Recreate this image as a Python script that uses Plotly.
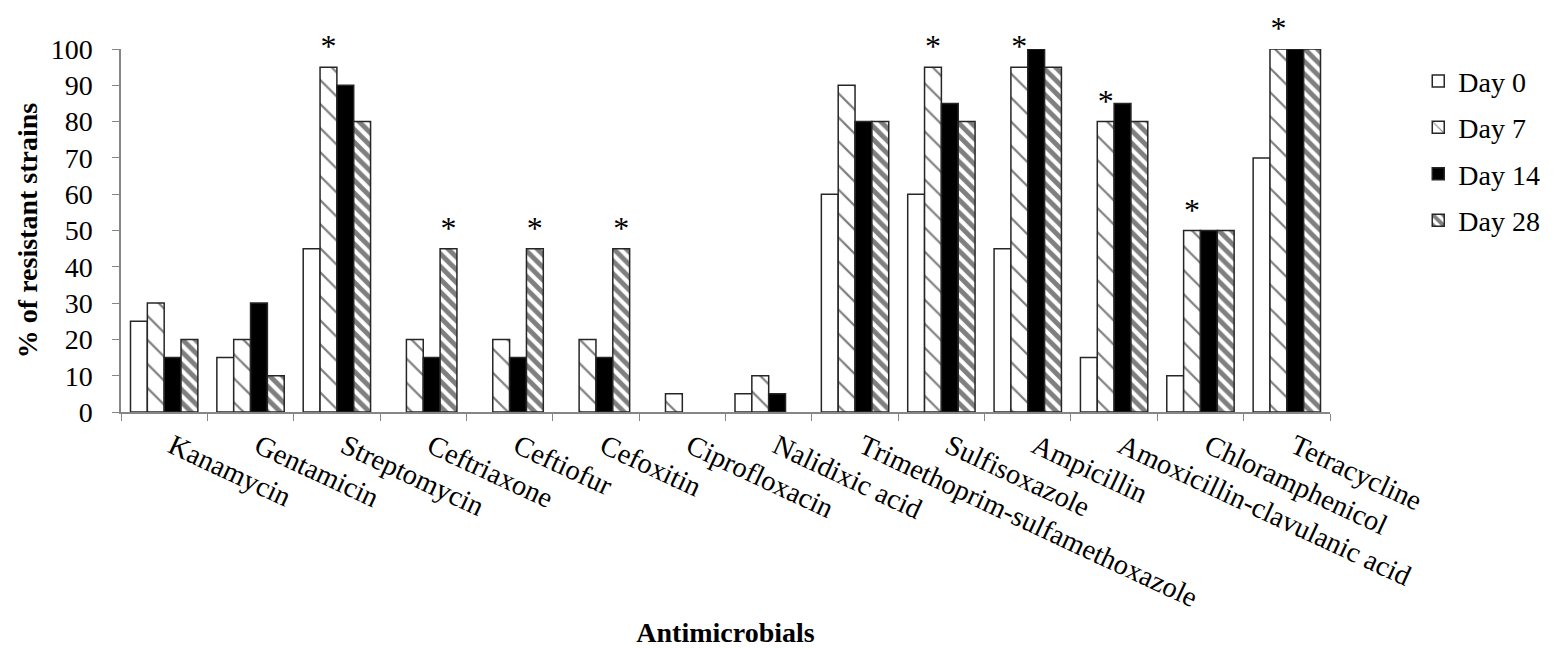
import plotly.graph_objects as go

antimicrobials = [
    "Kanamycin", "Gentamicin", "Streptomycin", "Ceftriaxone", "Ceftiofur",
    "Cefoxitin", "Ciprofloxacin", "Nalidixic acid",
    "Trimethoprim-sulfamethoxazole", "Sulfisoxazole", "Ampicillin",
    "Amoxicillin-clavulanic acid", "Chloramphenicol", "Tetracycline",
]

day0 = [25, 15, 45, 0, 0, 0, 0, 5, 60, 60, 45, 15, 10, 70]
day7 = [30, 20, 95, 20, 20, 20, 5, 10, 90, 95, 95, 80, 50, 100]
day14 = [15, 30, 90, 15, 15, 15, 0, 5, 80, 85, 100, 85, 50, 100]
day28 = [20, 10, 80, 45, 45, 45, 0, 0, 80, 80, 95, 80, 50, 100]

# significance markers per bar
sig7 = ["", "", "*", "", "", "", "", "", "", "*", "*", "*", "*", "*"]
sig28 = ["", "", "", "*", "*", "*", "", "", "", "", "", "", "", ""]

FONT = "Liberation Serif"
EDGE = "#262626"

series = [
    ("Day 0", day0, dict(color="white"), None),
    ("Day 7", day7, dict(color="white",
                         pattern=dict(shape="\\", size=17, solidity=0.13,
                                      fgcolor="black", bgcolor="white",
                                      fillmode="overlay")), sig7),
    ("Day 14", day14, dict(color="black"), None),
    ("Day 28", day28, dict(color="white",
                           pattern=dict(shape="\\", size=9, solidity=0.55,
                                        fgcolor="black", bgcolor="white",
                                        fillmode="overlay")), sig28),
]

fig = go.Figure()
for i, (name, vals, marker, sig) in enumerate(series):
    m = dict(marker)
    m["line"] = dict(color=EDGE, width=[1.5 if v > 0 else 0 for v in vals])
    fig.add_trace(go.Bar(
        name=name,
        x=antimicrobials,
        y=vals,
        marker=m,
        text=sig if sig else None,
        textposition="outside" if sig else None,
        textfont=dict(family=FONT, size=32, color="black"),
        cliponaxis=False,
        legendgroup=name,
    ))

fig.update_layout(
    width=1557,
    height=648,
    margin=dict(l=121, r=211, t=49, b=236),
    paper_bgcolor="white",
    plot_bgcolor="white",
    barmode="group",
    bargap=0.22,
    bargroupgap=0,
    font=dict(family=FONT, size=28, color="black"),
    showlegend=True,
    legend=dict(
        x=1.073, xanchor="left", y=0.98, yanchor="top",
        font=dict(family=FONT, size=28, color="black"),
        tracegroupgap=7,
        itemwidth=30,
    ),
)

fig.update_xaxes(
    type="category",
    tickangle=25,
    tickson="boundaries",
    ticks="outside",
    ticklen=7,
    tickcolor="#868686",
    showline=True,
    linecolor="#868686",
    linewidth=1.5,
    showgrid=False,
    ticklabelshift=8,
    ticklabelstandoff=5,
    tickfont=dict(family=FONT, size=28.5, color="black"),
    title=dict(text="<b>Antimicrobials</b>", standoff=13,
               font=dict(family=FONT, size=28, color="black")),
    automargin=False,
)

fig.update_yaxes(
    range=[0, 100],
    dtick=10,
    ticks="outside",
    ticklen=7,
    tickcolor="#868686",
    showline=True,
    linecolor="#868686",
    linewidth=1.5,
    showgrid=False,
    zeroline=False,
    ticklabelstandoff=14,
    tickfont=dict(family=FONT, size=28, color="black"),
    title=dict(text="<b>% of resistant strains</b>", standoff=5,
               font=dict(family=FONT, size=28, color="black")),
    automargin=False,
)

fig.write_html("out.html")
